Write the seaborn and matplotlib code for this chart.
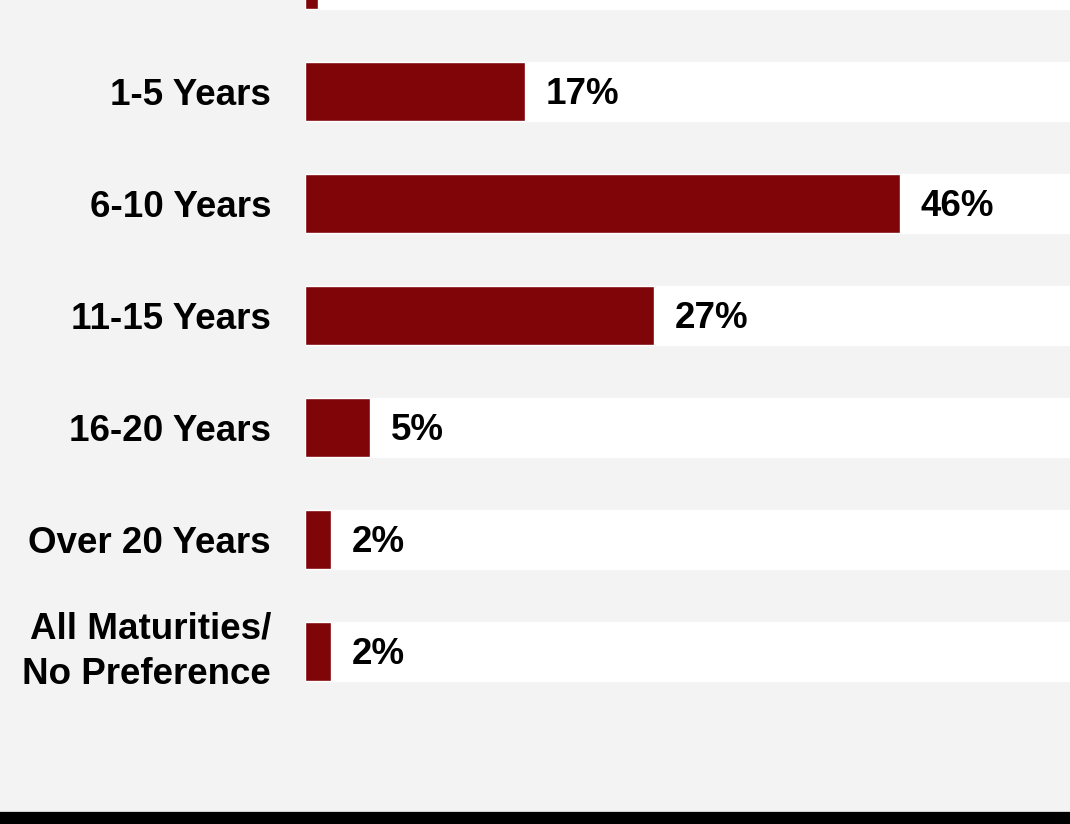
import matplotlib
matplotlib.use("Agg")
import matplotlib.pyplot as plt
import seaborn as sns
import pandas as pd
from matplotlib.patches import Rectangle

# Preferred maturity ranges and share of respondents (%)
categories = [
    "Up to 1 Year",
    "1-5 Years",
    "6-10 Years",
    "11-15 Years",
    "16-20 Years",
    "Over 20 Years",
    "All Maturities/\nNo Preference",
]
shares = [1, 17, 46, 27, 5, 2, 2]
track_full = [100] * len(categories)

df = pd.DataFrame({"category": categories, "share": shares, "track": track_full})

sns.set_theme(style="white")
plt.rcParams["font.family"] = ["Liberation Sans", "DejaVu Sans"]
plt.rcParams["font.weight"] = "bold"

BG = "#f3f3f3"
BAR = "#7f0508"
DPI = 100
W, H = 1070, 824
FS = 26.5
PT = 72 / DPI  # points per pixel

fig = plt.figure(figsize=(W / DPI, H / DPI), dpi=DPI, facecolor=BG)

# plot area: from x=305 px to right edge, from top down to the footer band
left_px, right_px, top_px, bottom_px = 305, 1070, 0, 812
ax = fig.add_axes([left_px / W, 1 - bottom_px / H,
                   (right_px - left_px) / W, (bottom_px - top_px) / H])
ax.set_facecolor(BG)

bar_w = 59 / 112
sns.barplot(data=df, x="track", y="category", order=categories,
            color="white", width=bar_w, ax=ax, saturation=1)
sns.barplot(data=df, x="share", y="category", order=categories,
            color=BAR, width=bar_w, ax=ax, saturation=1)

px_per_pct = 12.93
ax.set_xlim(0, (right_px - left_px) / px_per_pct)
ax.set_ylim((bottom_px + 20.5) / 112, (top_px + 20.5) / 112)

# value labels beside each bar, baseline set half a cap height below bar centre
for bar, v in zip(ax.containers[-1], shares):
    y_mid = bar.get_y() + bar.get_height() / 2
    ax.annotate(f"{v}%", xy=(bar.get_width(), y_mid),
                xytext=(21 * PT, -13 * PT), textcoords="offset points",
                ha="left", va="baseline", fontsize=FS, fontweight="bold",
                color="black", annotation_clip=False)

ax.set_xlabel("")
ax.set_ylabel("")
ax.set_xticks([])
ax.tick_params(axis="y", length=0, pad=34 * PT, labelsize=FS)
for lbl in ax.get_yticklabels():
    lbl.set_fontweight("bold")
    lbl.set_color("black")
    lbl.set_horizontalalignment("right")
    lbl.set_multialignment("right")
    if "\n" in lbl.get_text():
        lbl.set_linespacing(1.39)
        lbl.set_verticalalignment("center")
for s in ax.spines.values():
    s.set_visible(False)

# footer band
fig.patches.append(Rectangle((0, 0), 1, (H - 812) / H, transform=fig.transFigure,
                             facecolor="black", edgecolor="none", zorder=5))
fig.patches.append(Rectangle((0, (H - 812) / H), 1, 1 / H, transform=fig.transFigure,
                             facecolor="#d0d0d0", edgecolor="none", zorder=5))

fig.savefig("out.png", dpi=DPI, facecolor=BG)
